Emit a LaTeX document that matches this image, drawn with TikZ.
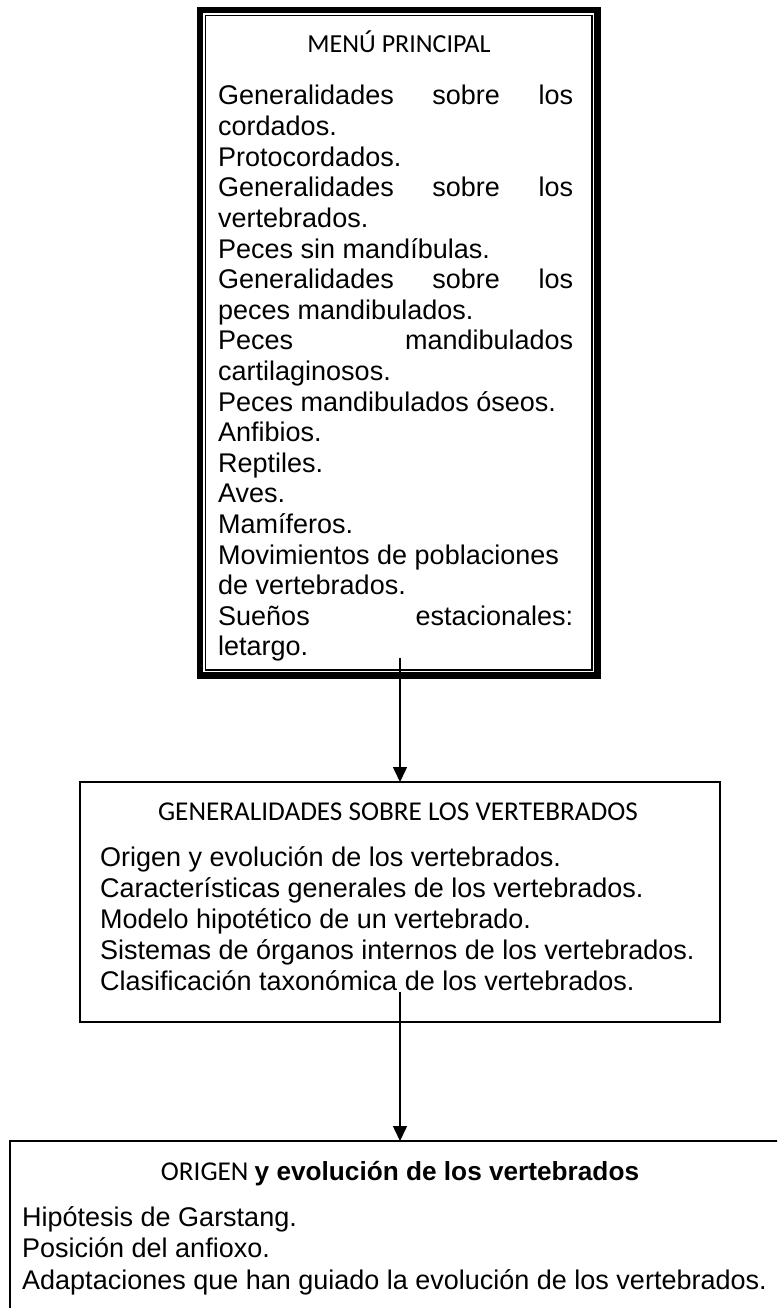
\documentclass[tikz,border=0pt]{standalone}
\usepackage{fontspec}
\setmainfont{Liberation Sans}
\newfontfamily\calfont{Carlito}
\usetikzlibrary{arrows.meta}
\newcommand\J[1]{\makebox[355pt][s]{#1}}
\begin{document}
\begin{tikzpicture}[x=1pt,y=-1pt,
  txt/.style={anchor=base west,inner sep=0pt,font=\fontsize{27}{31}\selectfont},
  ttl/.style={anchor=base,inner sep=0pt,font=\calfont\fontsize{26}{31}\selectfont},
  box/.style={draw,inner sep=0pt,outer sep=0pt},
  arr/.style={line width=1.5pt,-{Triangle[width=14pt,length=15pt]}}]
\useasboundingbox (0,0) rectangle (777,1308);
\clip (0,0) rectangle (777,1308);
% top box: thick-thin border
\node[box,line width=6.6pt,minimum width=397.7pt,minimum height=665.5pt] (menu) at (398.85,342.75) {};
\node[box,line width=1.7pt,minimum width=386.2pt,minimum height=654.5pt] (menuin) at (398.6,342.75) {};
\node[ttl] (t1) at (399,53) {MENÚ PRINCIPAL};
\foreach \t [count=\i] in {%
  {\J{Generalidades sobre los}},cordados.,Protocordados.,
  {\J{Generalidades sobre los}},vertebrados.,Peces sin mandíbulas.,
  {\J{Generalidades sobre los}},peces mandibulados.,
  {\J{Peces mandibulados}},cartilaginosos.,Peces mandibulados óseos.,
  Anfibios.,Reptiles.,Aves.,Mamíferos.,Movimientos de poblaciones,
  de vertebrados.,{\J{Sueños estacionales:}},letargo.}
  \node[txt] (m\i) at (218,{105+30.6*(\i-1)}) {\t};
% second box
\node[box,line width=2.2pt,minimum width=640pt,minimum height=240pt] (gen) at (400,902) {};
\node[ttl,font=\calfont\fontsize{27.2}{31}\selectfont] (t2) at (398,820) {GENERALIDADES SOBRE LOS VERTEBRADOS};
\foreach \t [count=\i] in {%
  Origen y evolución de los vertebrados.,
  Características generales de los vertebrados.,
  Modelo hipotético de un vertebrado.,
  Sistemas de órganos internos de los vertebrados.,
  Clasificación taxonómica de los vertebrados.}
  \node[txt] (g\i) at (100,{866+31*(\i-1)}) {\t};
% third box
\node[box,line width=2.2pt,minimum width=780pt,minimum height=300pt] (ori) at (400,1291) {};
\node[ttl,font=\calfont\fontsize{27.2}{31}\selectfont] (t3) at (400,1180) {ORIGEN \fontspec{Liberation Sans}\bfseries\fontsize{26.2}{31}\selectfont y evolución de los vertebrados};
\foreach \t [count=\i] in {%
  Hipótesis de Garstang.,
  Posición del anfioxo.,
  Adaptaciones que han guiado la evolución de los vertebrados.}
  \node[txt] (o\i) at (22,{1226+31.5*(\i-1)}) {\t};
% connectors
\coordinate (s1) at (400,658);
\coordinate (s2) at (400,992);
\draw[arr] (s1) -- (s1 |- gen.north);
\draw[arr] (s2) -- (s2 |- ori.north);
\end{tikzpicture}
\end{document}
